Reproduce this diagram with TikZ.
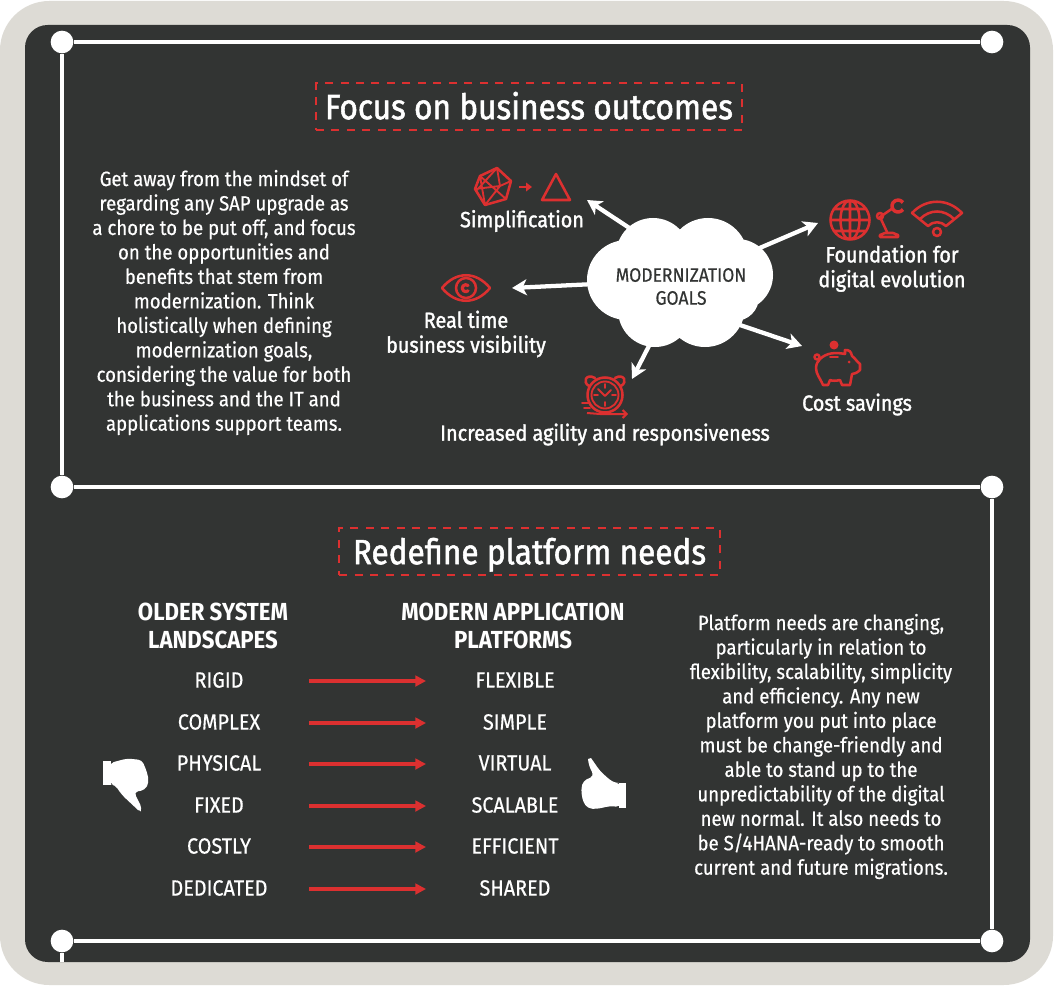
\documentclass[tikz,border=0pt]{standalone}
\usepackage{fontspec}
\setmainfont[FakeStretch=0.9]{Fira Sans}
\newfontfamily\bodyfont[FakeStretch=0.9,FakeBold=0.5]{Fira Sans}
\newfontfamily\medfont[FakeStretch=0.9,FakeBold=1.5]{Fira Sans}
\usetikzlibrary{arrows.meta}
\definecolor{panel}{HTML}{323433}
\definecolor{rim}{HTML}{DDDBD5}
\definecolor{fjred}{HTML}{DC3030}
\tikzset{
    frameline/.style={white,line width=3.5pt},
    framedot/.style={circle,fill=white,inner sep=0pt,minimum size=17pt},
    titlebox/.style={draw=fjred,line width=1.6pt,dash pattern=on 6pt off 5.6pt,text=white,inner sep=0pt,
        text height=19pt,text depth=0pt,font=\fontsize{26.3}{30}\medfont},
    bodytext/.style={text=white,align=center,inner sep=0pt,font=\fontsize{15.5}{18.35}\bodyfont},
    goaltext/.style={text=white,align=center,inner sep=0pt,font=\fontsize{16.5}{18.6}\medfont},
    headtext/.style={text=white,align=center,inner sep=0pt,font=\fontsize{18.5}{20.8}\selectfont\bfseries},
    rowtext/.style={text=white,inner sep=0pt,font=\fontsize{16.5}{18}\bodyfont},
    goalarrow/.style={-{Stealth[length=11pt,width=12pt,inset=3pt]},white,line width=3.2pt},
    rowarrow/.style={-{Triangle[length=8pt,width=8pt]},fjred,line width=2.6pt},
    iconline/.style={draw=fjred,line width=1.9pt,line join=round,line cap=round},
    iconthin/.style={iconline,line width=1.4pt},
}
\begin{document}
\begin{tikzpicture}[x=0.75pt,y=-0.75pt]
    \useasboundingbox (0,0) rectangle (1055,987);
    \fill[white] (0,0) rectangle (1055,987);
    \fill[rim,rounded corners=37pt] (0,1) rectangle (1053,985);
    \fill[panel,rounded corners=17pt] (25,25) rectangle (1030,962);

    % frame
    \begin{scope}[every node/.style={framedot}]
        \node (TL) at (62,42) {};
        \node (TR) at (992,42) {};
        \node (ML) at (62,487) {};
        \node (MR) at (992,487) {};
        \node (BL) at (62,941) {};
        \node (BR) at (992,941) {};
    \end{scope}
    \coordinate (BLend) at (62,962);
    \begin{scope}[every path/.style={frameline}]
        \path (TL) edge (TR);
        \path (TL) edge (ML);
        \path (ML) edge (MR);
        \path (MR) edge (BR);
        \path (BL) edge (BR);
        \path (BL) edge (BLend);
    \end{scope}

    % titles
    \node [titlebox,minimum width=319.5pt,minimum height=35pt] (focus) at (529,106.5) {Focus on business outcomes};
    \node [titlebox,minimum width=285.5pt,minimum height=35pt] (redefine) at (529.5,551.5) {Redefine platform needs};

    % left text
    \node [bodytext] (leftbody) at (224,302.5) {Get away from the mindset of\\regarding any SAP upgrade as\\a chore to be put off, and focus\\on the opportunities and\\benefits that stem from\\modernization. Think\\holistically when defining\\modernization goals,\\considering the value for both\\the business and the IT and\\applications support teams.};

    % arrows go under the cloud
    \coordinate (simpfrom) at (640,235);
    \coordinate (simpto) at (587,200);
    \coordinate (timefrom) at (595,284);
    \coordinate (timeto) at (512,288);
    \coordinate (agilefrom) at (652,340);
    \coordinate (agileto) at (632,379);
    \coordinate (foundfrom) at (755,250);
    \coordinate (foundto) at (818,223);
    \coordinate (costfrom) at (740,325);
    \coordinate (costto) at (802,346);
    \draw [goalarrow] (simpfrom) -- (simpto);
    \draw [goalarrow] (timefrom) -- (timeto);
    \draw [goalarrow] (agilefrom) -- (agileto);
    \draw [goalarrow] (foundfrom) -- (foundto);
    \draw [goalarrow] (costfrom) -- (costto);

    % cloud
    \fill [white] (653,255) circle (37) (708,258) circle (40) (737,275) circle (36)
        (627,280) circle (40) (655,310) circle (37) (705,307) circle (40) (735,297) circle (24)
        (680,285) circle (50);
    \node [text=panel,align=center,inner sep=0pt,font=\fontsize{14.6}{17.2}\bodyfont] (goals) at (681,286.5) {MODERNIZATION\\GOALS};

    % goal labels
    \node [goaltext] (simp) at (522,221) {Simplification};
    \node [goaltext] (time) at (466,334) {Real time\\business visibility};
    \node [goaltext] (found) at (892,268.5) {Foundation for\\digital evolution};
    \node [goaltext] (cost) at (857,404.5) {Cost savings};
    \node [goaltext] (agile) at (605,434.5) {Increased agility and responsiveness};

    % simplification icon
    \draw [iconline] (475,189) -- (480,176) -- (497,168) -- (511,181) -- (506,199) -- (485,205) -- cycle;
    \draw [iconthin] (480,176) -- (506,199) (497,168) -- (477,190) (497,168) -- (500,186) -- (511,181)
        (475,189) -- (500,186) (485,205) -- (500,186) (480,176) -- (485,205);
    \draw [-{Triangle[length=4.5pt,width=6.5pt]},fjred,line width=1.8pt] (519,187) -- (532,187);
    \draw [iconline] (556,174) -- (542,200) -- (570,200) -- cycle;

    % eye
    \draw [iconline] (442,288) .. controls (456,271) and (476,271) .. (490,288) .. controls (476,305) and (456,305) .. (442,288) -- cycle;
    \draw [iconline] (466,288) circle (10);
    \draw [iconline,line width=2.4pt] (468,285.5) arc (-50:-310:3.5);

    % clock
    \draw [iconline] (605,395) circle (17.5);
    \draw [iconthin] (605,395) circle (13.5);
    \draw [iconline] (589,386) .. controls (582,382) and (586,373) .. (595,378);
    \draw [iconline] (621,386) .. controls (628,382) and (624,373) .. (615,378);
    \draw [iconthin] (605,384) -- (605,388) (605,402) -- (605,406) (594,395) -- (598,395) (612,395) -- (616,395)
        (598,389) -- (605,396) -- (611,390);
    \draw [iconthin] (582,403) -- (589,403) (584,408) -- (590,408);
    \draw [-{Straight Barb[length=3pt,width=6pt]},fjred,line width=1.5pt] (587,413) -- (600,414) -- (628,414);

    % globe
    \draw [iconline] (850,220) circle (19.5) (850,220) ellipse (9.5 and 19.5) (850,200.5) -- (850,239.5) (830.5,220) -- (869.5,220)
        (834,209) -- (866,209) (834,231) -- (866,231);

    % lamp
    \draw [iconline] (880,237) -- (880,235) -- (885,233) -- (893,233) -- (898,235) -- (898,237) -- cycle;
    \draw [iconline] (887,232) -- (880,217) -- (893,208);
    \draw [iconline] (880,216) circle (3);
    \draw [iconline,line width=2.6pt,line cap=butt] ([shift={(898,206)}]35:6) arc (35:325:6);

    % wifi
    \draw [iconline] (937,232) circle (4);
    \draw [iconline] (928,226) .. controls (933,221) and (941,221) .. (946,226) -- (962,213)
        .. controls (948,198) and (926,198) .. (912,213) -- cycle;
    \draw [iconline] (920,219) .. controls (930,209) and (944,209) .. (954,219);

    % piggy
    \fill [fjred] (834,345) circle (4.5);
    \draw [iconline] (820,359) .. controls (826,353) and (835,352) .. (845,354) -- (845,350) .. controls (849,350) and (851,351) .. (852,356)
        .. controls (855,358) and (857,362) .. (860,364) -- (860,370) .. controls (857,373) and (854,374) .. (852,374)
        -- (850,385) -- (842,385) -- (840,380) .. controls (836,381) and (832,381) .. (830,380) -- (828,385) -- (823,385)
        .. controls (820,378) and (816,374) .. (816,368) .. controls (816,364) and (818,361) .. (820,359) -- cycle;
    \draw [iconline] (817,357) circle (2.5);
    \draw [iconthin] (830,357) -- (838,357);
    \fill [fjred] (849,362) circle (1.5);

    % second half
    \foreach \headname/\headx/\headtxt in {older/213/OLDER SYSTEM\\LANDSCAPES,modern/513/MODERN APPLICATION\\PLATFORMS}
        \node [headtext] (\headname) at (\headx,626) {\headtxt};
    \foreach \oldword/\newword/\rowy in {RIGID/FLEXIBLE/680,COMPLEX/SIMPLE/722,PHYSICAL/VIRTUAL/763,FIXED/SCALABLE/805,COSTLY/EFFICIENT/846,DEDICATED/SHARED/888}{
        \node [rowtext] (old\rowy) at (219,\rowy) {\oldword};
        \node [rowtext] (new\rowy) at (515,\rowy) {\newword};
        \coordinate (from\rowy) at (309,\rowy+1);
        \coordinate (to\rowy) at (426,\rowy+1);
        \draw [rowarrow] (from\rowy) -- (to\rowy);
    }

    % thumbs
    \fill [white] (103,761) rectangle (111,785);
    \fill [white,rounded corners=3pt] (110,763) -- (127,758.5) -- (142,760) -- (147,772) -- (149,782) -- (145,790) -- (134,792)
        -- (142,808) [sharp corners] -- (141,811) -- (138,810) [rounded corners=3pt] -- (122,795) -- (115,785) -- (110,784) -- cycle;
    \fill [white] (619,783) rectangle (626,808);
    \fill [white,rounded corners=3pt] (620,783) -- (615,783) -- (610,780) -- (600,771) [sharp corners] -- (591,758) -- (588,759)
        [rounded corners=3pt] -- (589,766) -- (594,776) -- (583,781) -- (581,790) -- (583,802) -- (588,808.5) -- (597,809) -- (610,806) -- (620,807) -- cycle;

    % right text
    \node [bodytext] (rightbody) at (821,746.5) {Platform needs are changing,\\particularly in relation to\\flexibility, scalability, simplicity\\and efficiency. Any new\\platform you put into place\\must be change-friendly and\\able to stand up to the\\unpredictability of the digital\\new normal. It also needs to\\be S/4HANA-ready to smooth\\current and future migrations.};
\end{tikzpicture}
\end{document}
